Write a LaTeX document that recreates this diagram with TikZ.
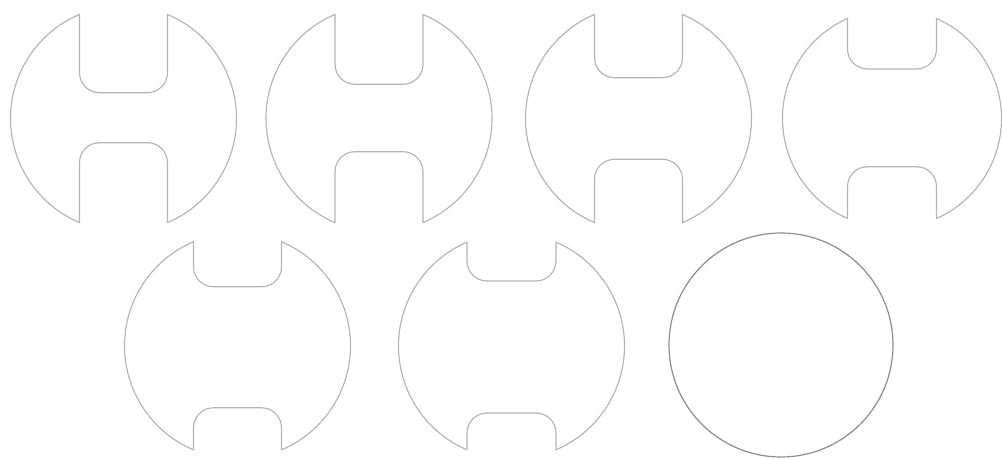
\documentclass[tikz,border=0pt]{standalone}
\definecolor{outl}{HTML}{B4B4B4}
\definecolor{ringc}{HTML}{8C8C8C}
\tikzset{
  discline/.style={draw=outl, line width=1.15pt, line join=round},
  ringline/.style={draw=ringc, line width=1.2pt}
}
% #1 cx, #2 cy (y up), #3 r, #4 half notch width, #5 top floor, #6 bottom floor
\newcommand\notchdisc[6]{%
  \pgfmathsetmacro\nA{acos(#4/#3)}%
  \pgfmathsetmacro\nH{#3*sin(\nA)}%
  \pgfmathsetmacro\nRc{20}%
  \begin{scope}[shift={(#1,#2)}]
  \draw[discline] (-#4,\nH) -- (-#4,#5+\nRc)
    arc[start angle=180, end angle=270, radius=\nRc] -- (#4-\nRc,#5)
    arc[start angle=270, end angle=360, radius=\nRc] -- (#4,\nH)
    arc[start angle=\nA, end angle=-\nA, radius=#3] -- (#4,-#6-\nRc)
    arc[start angle=0, end angle=90, radius=\nRc] -- (-#4+\nRc,-#6)
    arc[start angle=90, end angle=180, radius=\nRc] -- (-#4,-\nH)
    arc[start angle=180+\nA, end angle=180-\nA, radius=#3] -- cycle;
  \end{scope}}
\begin{document}
\begin{tikzpicture}[x=1pt,y=1pt]
\useasboundingbox (0,0) rectangle (1002,458);
\notchdisc{123.5}{339.5}{113}{44}{25.8}{24.2}
\notchdisc{379}{339.5}{113}{44}{34.2}{33.2}
\notchdisc{638.5}{339.5}{113}{44}{40.8}{40.8}
\notchdisc{892}{339.5}{109.5}{44.5}{49.5}{48.2}
\notchdisc{237.5}{112.2}{113}{44}{59}{62}
\notchdisc{511.5}{112}{113}{44.5}{65}{67}
\node[ringline, circle, minimum size=224pt, inner sep=0pt] (ring) at (781,113) {};
\end{tikzpicture}
\end{document}
